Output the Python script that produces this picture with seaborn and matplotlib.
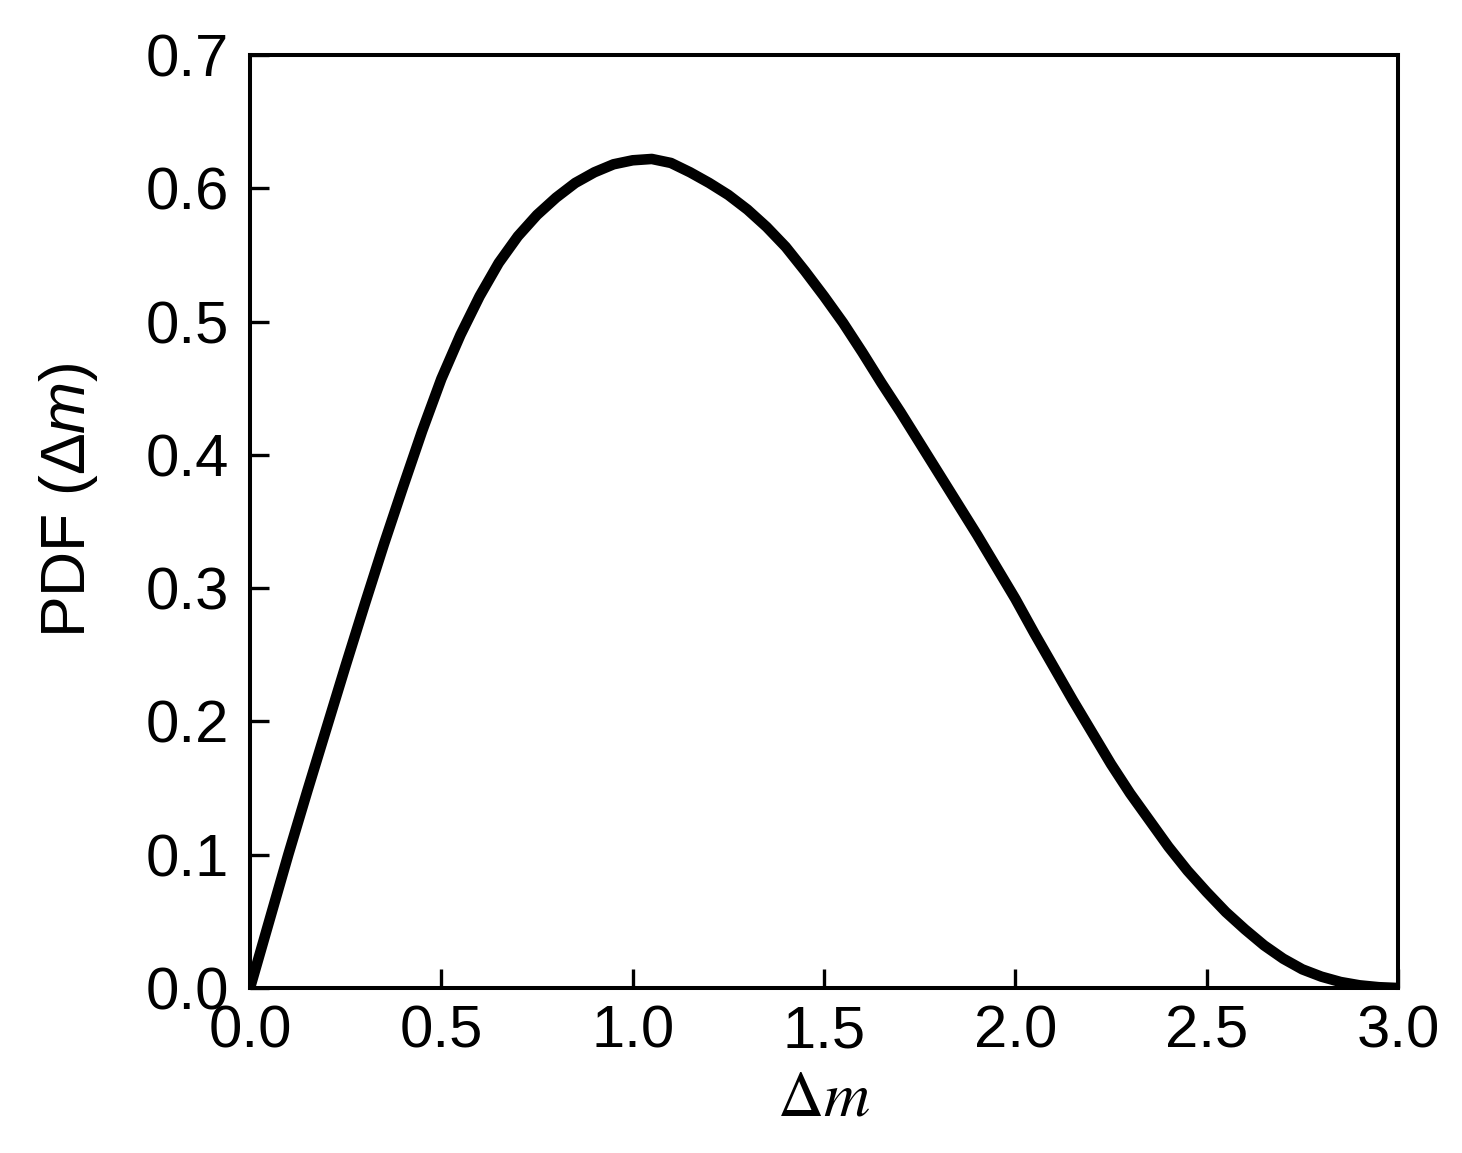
import matplotlib
matplotlib.use("Agg")
import matplotlib.pyplot as plt
import seaborn as sns
import pandas as pd
from matplotlib.ticker import FormatStrFormatter

# Data
delta_m = [0.00, 0.05, 0.10, 0.15, 0.20, 0.25, 0.30, 0.35, 0.40, 0.45,
           0.50, 0.55, 0.60, 0.65, 0.70, 0.75, 0.80, 0.85, 0.90, 0.95,
           1.00, 1.05, 1.10, 1.15, 1.20, 1.25, 1.30, 1.35, 1.40, 1.45,
           1.50, 1.55, 1.60, 1.65, 1.70, 1.75, 1.80, 1.85, 1.90, 1.95,
           2.00, 2.05, 2.10, 2.15, 2.20, 2.25, 2.30, 2.35, 2.40, 2.45,
           2.50, 2.55, 2.60, 2.65, 2.70, 2.75, 2.80, 2.85, 2.90, 2.95, 3.00]
pdf_values = [0.000, 0.050, 0.100, 0.148, 0.195, 0.242, 0.288, 0.333, 0.376, 0.418,
              0.457, 0.490, 0.519, 0.544, 0.564, 0.580, 0.593, 0.604, 0.612, 0.618,
              0.621, 0.622, 0.619, 0.612, 0.604, 0.595, 0.584, 0.571, 0.556, 0.538,
              0.519, 0.499, 0.477, 0.454, 0.432, 0.409, 0.386, 0.363, 0.340, 0.316,
              0.292, 0.266, 0.241, 0.216, 0.192, 0.168, 0.146, 0.126, 0.106, 0.088,
              0.072, 0.057, 0.044, 0.032, 0.022, 0.014, 0.0085, 0.0045, 0.002, 0.0006, 0.000]
x_ticks = [0.0, 0.5, 1.0, 1.5, 2.0, 2.5, 3.0]
y_ticks = [0.0, 0.1, 0.2, 0.3, 0.4, 0.5, 0.6, 0.7]

df = pd.DataFrame({"dm": delta_m, "pdf": pdf_values})

sns.set_theme(style="white")
plt.rcParams["font.family"] = ["Liberation Sans", "DejaVu Sans"]
plt.rcParams["mathtext.fontset"] = "custom"
plt.rcParams["mathtext.rm"] = "Liberation Sans"
plt.rcParams["mathtext.it"] = "Liberation Sans:italic"
plt.rcParams["text.color"] = "black"
plt.rcParams["axes.labelcolor"] = "black"

fig = plt.figure(figsize=(14.62, 11.53), dpi=100)
ax = fig.add_axes([250 / 1462, 1 - 988 / 1153, (1398 - 250) / 1462, (988 - 55) / 1153])

sns.lineplot(data=df, x="dm", y="pdf", ax=ax, color="black", linewidth=7.6)
for ln in ax.lines:
    ln.set_linewidth(7.6)
    ln.set_solid_joinstyle("round")
    ln.set_solid_capstyle("butt")

ax.set_xlim(0, 3.0)
ax.set_ylim(0, 0.7)
ax.set_xticks(x_ticks)
ax.set_yticks(y_ticks)
ax.xaxis.set_major_formatter(FormatStrFormatter("%.1f"))
ax.yaxis.set_major_formatter(FormatStrFormatter("%.1f"))

for side in ["left", "right", "top", "bottom"]:
    ax.spines[side].set_visible(True)
    ax.spines[side].set_color("black")
    ax.spines[side].set_linewidth(2.9)

ax.tick_params(axis="both", which="major", direction="in", length=13.5, width=2.4,
               color="black", labelsize=43, labelcolor="black",
               top=False, right=False, left=True, bottom=True)
ax.tick_params(axis="y", pad=15)
ax.tick_params(axis="x", pad=12)

ax.set_xlabel(r"$\Delta m$", fontsize=46, math_fontfamily="stix", labelpad=6, color="black")
ax.set_ylabel(r"PDF (Δ$m$)", fontsize=45, color="black")
ax.yaxis.set_label_coords(-0.1307, 0.523)

fig.savefig("out.png", dpi=100, facecolor="white")
